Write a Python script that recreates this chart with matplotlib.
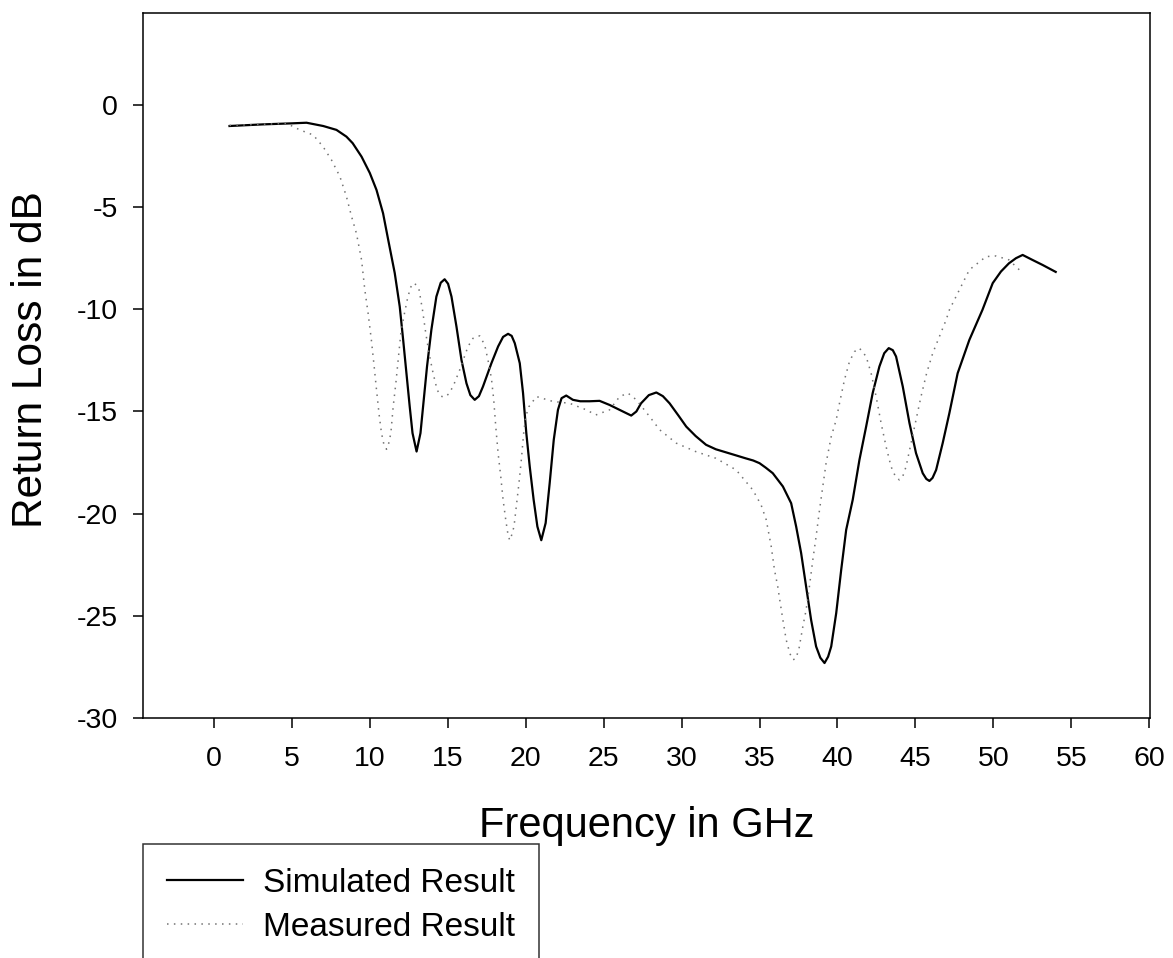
import matplotlib
matplotlib.use("Agg")
import matplotlib.pyplot as plt

plt.rcParams['font.family'] = ['Liberation Sans', 'DejaVu Sans']
plt.rcParams['axes.unicode_minus'] = False

# Simulated result (solid)
sim_f = [1.0, 3.16, 5.0, 5.94, 7.01, 7.86, 8.5, 8.9, 9.47, 10.0, 10.43, 10.85, 11.18, 11.6, 11.92,
         12.14, 12.35, 12.56, 12.74, 13.0, 13.25, 13.46, 13.67, 13.95, 14.27, 14.55, 14.8, 15.02, 15.24,
         15.56, 15.88, 16.2, 16.45, 16.73, 17.0, 17.26, 17.8, 18.23, 18.55, 18.87, 19.1, 19.3, 19.62,
         19.83, 20.04, 20.26, 20.51, 20.75, 21.0, 21.28, 21.54, 21.8, 22.07, 22.3, 22.6, 23.03, 23.5,
         24.1, 24.74, 25.38, 26.1, 26.77, 27.1, 27.4, 27.9, 28.38, 28.8, 29.23, 29.8, 30.3, 30.9,
         31.57, 32.2, 32.85, 33.5, 34.1, 34.6, 35.0, 35.4, 35.85, 36.5, 37.03, 37.35, 37.67, 37.99,
         38.31, 38.63, 38.9, 39.17, 39.4, 39.6, 39.92, 40.24, 40.56, 40.98, 41.41, 41.84, 42.26,
         42.69, 43.0, 43.29, 43.55, 43.76, 44.19, 44.62, 45.04, 45.47, 45.7, 45.9, 46.1, 46.33,
         46.75, 47.18, 47.71, 48.46, 49.3, 49.96, 50.49, 51.0, 51.45, 51.88, 52.5, 53.16, 54.0]
sim_db = [-1.03, -0.95, -0.9, -0.87, -1.03, -1.22, -1.55, -1.87, -2.53, -3.33, -4.16, -5.3, -6.6, -8.23, -9.87,
          -11.5, -13.13, -14.76, -16.06, -16.96, -16.06, -14.43, -12.8, -11.0, -9.38, -8.7, -8.53, -8.75, -9.38,
          -10.85, -12.48, -13.62, -14.2, -14.43, -14.25, -13.78, -12.64, -11.82, -11.35, -11.2, -11.3, -11.66, -12.64,
          -14.1, -16.06, -17.7, -19.32, -20.63, -21.3, -20.46, -18.5, -16.39, -14.92, -14.35, -14.22, -14.43, -14.5,
          -14.5, -14.48, -14.68, -14.95, -15.2, -15.0, -14.6, -14.2, -14.07, -14.25, -14.6, -15.2, -15.74, -16.2,
          -16.63, -16.85, -17.0, -17.15, -17.29, -17.4, -17.53, -17.75, -18.02, -18.67, -19.49, -20.63, -21.93, -23.57,
          -25.2, -26.5, -27.05, -27.31, -27.0, -26.5, -24.87, -22.75, -20.79, -19.32, -17.37, -15.74, -14.1,
          -12.8, -12.15, -11.9, -12.0, -12.31, -13.78, -15.57, -17.04, -18.02, -18.3, -18.4, -18.25, -17.86,
          -16.55, -15.08, -13.13, -11.5, -10.03, -8.72, -8.15, -7.75, -7.5, -7.34, -7.58, -7.83, -8.17]

# Measured result (dotted)
mea_f = [1.0, 3.0, 4.66, 5.51, 6.37, 7.0, 7.54, 8.08, 8.5, 8.83, 9.14, 9.47, 9.68, 9.89, 10.1,
         10.28, 10.43, 10.6, 10.75, 10.9, 11.07, 11.2, 11.35, 11.5, 11.67, 11.82, 11.99, 12.18, 12.4,
         12.6, 12.78, 12.98, 13.16, 13.38, 13.59, 13.8, 14.06, 14.32, 14.55, 14.8, 15.05, 15.34, 15.77,
         16.3, 16.62, 16.84, 17.05, 17.37, 17.58, 17.8, 17.95, 18.08, 18.23, 18.4, 18.55, 18.72,
         18.85, 18.97, 19.1, 19.25, 19.4, 19.57, 19.72, 19.87, 20.0, 20.21, 20.69, 21.75, 22.82,
         23.89, 24.5, 25.38, 26.03, 26.56, 27.1, 27.95, 28.6, 29.66, 30.9, 32.2, 33.5, 34.57, 35.1,
         35.43, 35.75, 35.96, 36.17, 36.33, 36.5, 36.71, 36.95, 37.14, 37.32, 37.52, 37.78, 37.99,
         38.2, 38.42, 38.63, 38.85, 39.06, 39.27, 39.6, 39.92, 40.13, 40.45, 40.77, 41.09, 41.41,
         41.84, 42.16, 42.48, 42.8, 43.12, 43.44, 43.7, 43.97, 44.2, 44.4, 44.72, 45.04, 45.36,
         45.72, 46.11, 46.54, 46.97, 47.18, 47.82, 48.46, 49.53, 50.17, 51.0, 51.67]
mea_db = [-1.0, -0.95, -0.9, -1.22, -1.47, -2.04, -2.69, -3.5, -4.48, -5.46, -6.28, -7.58, -9.05, -10.19, -11.5,
          -12.8, -13.94, -15.17, -16.06, -16.6, -16.85, -16.6, -16.06, -14.76, -13.62, -12.48, -11.17, -10.36, -9.54,
          -8.95, -8.72, -8.8, -9.05, -10.03, -11.17, -12.15, -13.13, -13.94, -14.25, -14.3, -14.15, -13.78, -12.96,
          -11.82, -11.42, -11.34, -11.3, -11.74, -12.48, -13.37, -14.43, -15.74, -17.04, -18.18, -19.32, -20.3,
          -20.95, -21.3, -21.05, -20.63, -19.65, -18.5, -17.37, -16.06, -15.25, -14.76, -14.27, -14.51, -14.6,
          -14.92, -15.17, -14.92, -14.27, -14.1, -14.43, -15.25, -15.9, -16.55, -16.96, -17.29, -17.86, -18.84, -19.57,
          -20.3, -21.6, -22.75, -23.57, -24.38, -25.2, -26.17, -26.85, -27.15, -27.1, -26.66, -25.52, -24.71,
          -23.57, -22.26, -21.12, -19.81, -18.67, -17.53, -16.23, -15.41, -14.6, -13.45, -12.56, -12.07, -11.9,
          -12.31, -13.13, -14.27, -15.57, -16.72, -17.7, -18.15, -18.35, -18.15, -17.7, -16.55, -15.41, -14.27,
          -13.13, -12.15, -11.34, -10.52, -10.03, -9.05, -8.07, -7.42, -7.39, -7.58, -8.07]

x_ticks = list(range(0, 61, 5))
y_ticks = list(range(-30, 1, 5))
series_labels = ["Simulated Result", "Measured Result"]

W, H = 1173, 958
fig = plt.figure(figsize=(W / 100, H / 100), dpi=100)
ax = fig.add_axes([143 / W, 1 - 718 / H, (1150 - 143) / W, (718 - 13) / H])

l1, = ax.plot(sim_f, sim_db, color='black', lw=1.6, solid_joinstyle='round')
l2, = ax.plot(mea_f, mea_db, color='0.45', lw=1.1, linestyle=(0, (1, 3.5)))

ax.set_xlim(-4.55, 60.05)
ax.set_ylim(-30, 4.5)
ax.set_xticks(x_ticks)
ax.set_yticks(y_ticks)
ax.tick_params(direction='out', length=7, width=1.1, labelsize=20.5, pad=11, color='black')
ax.tick_params(axis='x', pad=13.5)
for s in ax.spines.values():
    s.set_linewidth(1.1)

fig.text(646.5 / W, 1 - 837 / H, "Frequency in GHz", fontsize=30, ha='center', va='baseline')
fig.text(31 / W, 1 - 360 / H, "Return Loss in dB", fontsize=30.5, ha='center', va='center', rotation=90)

fs = 24
leg = fig.legend([l1, l2], series_labels, loc='upper left',
                 bbox_to_anchor=(143 / W, 1 - 844 / H), bbox_transform=fig.transFigure,
                 fontsize=fs, frameon=True, fancybox=False, borderpad=0.72,
                 handlelength=2.28, handletextpad=0.6, labelspacing=0.38, borderaxespad=0)
leg.get_frame().set_edgecolor('black')
leg.get_frame().set_linewidth(1.1)

fig.savefig("out.png", dpi=100)
